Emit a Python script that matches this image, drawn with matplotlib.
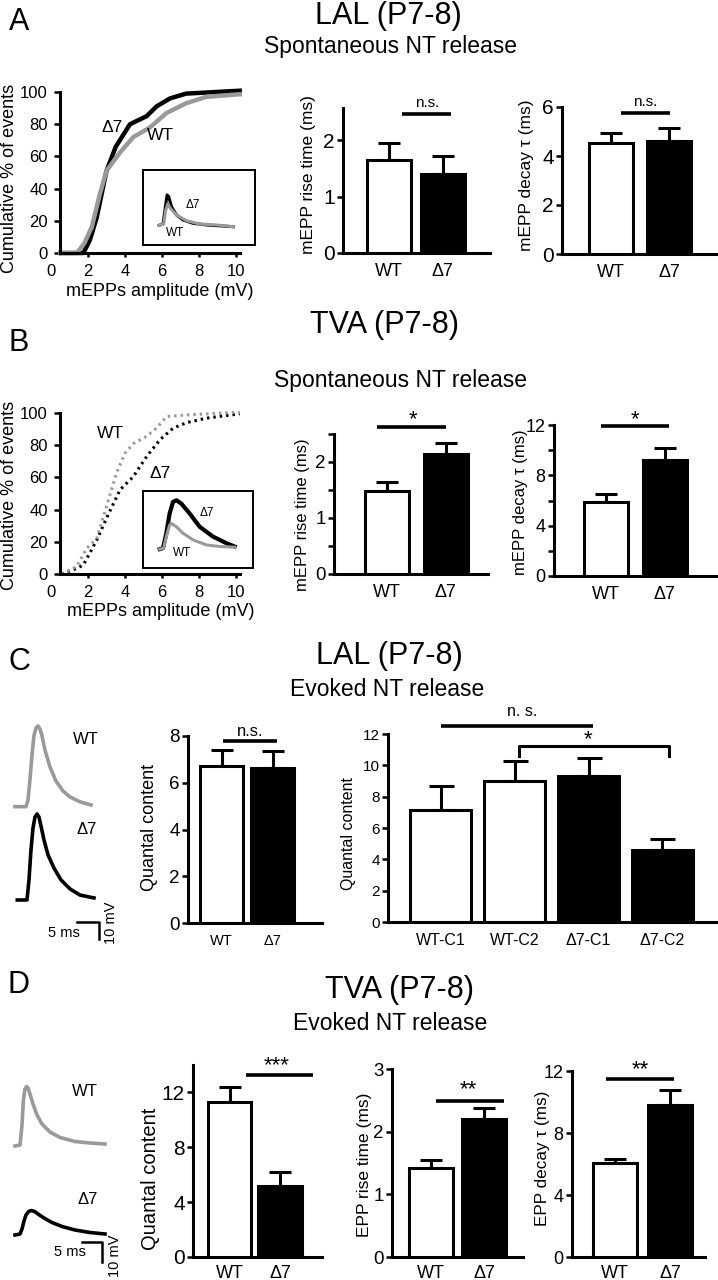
import numpy as np
import matplotlib.pyplot as plt

plt.rcParams['font.family'] = ['Liberation Sans', 'DejaVu Sans']

W, H = 718, 1280
GRAY = '#9a9a9a'

# cumulative mEPP amplitude distributions (mV, % of events)
a_wt_amp = [0.5, 1.4, 1.8, 2.2, 2.65, 3.0, 3.7, 4.45, 5.35, 6.25, 7.3, 8.4, 10.2]
a_wt_cum = [0, 0, 6, 16, 37, 51, 62, 72, 78, 87, 93, 97, 98.6]
a_d7_amp = [0.5, 1.6, 1.75, 2.1, 2.47, 3.0, 3.5, 4.27, 5.17, 5.7, 6.43, 7.3, 10.2]
a_d7_cum = [0, 0, 0, 8, 22, 51, 66, 80, 85, 91, 96, 99, 100.8]
b_wt_amp = [0.57, 1.39, 1.93, 2.47, 3.0, 3.55, 4.0, 4.45, 5.17, 5.7, 6.25, 7.3, 10.2]
b_wt_cum = [0, 4.6, 16, 22, 42, 63, 75, 81, 85.5, 90.6, 97.8, 98.8, 100.5]
b_d7_amp = [0.57, 1.39, 1.75, 2.47, 3.0, 3.73, 4.45, 5.17, 5.89, 6.6, 7.33, 8.4, 10.2]
b_d7_cum = [0, 3.5, 5.6, 21, 34.6, 52.3, 60.5, 73, 83.4, 90.6, 94, 96.8, 99.5]

# mEPP inset traces (arbitrary units)
ia_d7_t = [14.3, 17.9, 20.0, 21.5, 23.0, 25.4, 29.9, 35.8, 44.8, 56.7, 80.6]
ia_d7_v = [26.2, 28.0, 51.1, 66.7, 64.4, 51.1, 40.0, 33.3, 28.9, 26.7, 24.4]
ia_wt_t = [14.3, 18.5, 20.3, 22.1, 24.5, 29.9, 38.8, 50.7, 65.7, 80.6]
ia_wt_v = [26.2, 28.0, 46.7, 54.7, 48.9, 40.0, 32.4, 28.0, 26.7, 24.4]
ib_d7_t = [15.2, 18.2, 21.2, 24.2, 27.3, 30.3, 34.8, 42.4, 51.5, 63.6, 75.8, 83.3]
ib_d7_v = [24.5, 25.8, 45.1, 70.8, 85.8, 88.0, 83.7, 70.8, 53.6, 40.8, 32.2, 27.9]
ib_wt_t = [15.2, 18.8, 21.2, 24.2, 25.8, 30.3, 36.4, 45.5, 57.6, 69.7, 83.3]
ib_wt_v = [24.5, 25.8, 40.8, 55.8, 57.9, 53.6, 45.1, 36.5, 30.0, 27.9, 27.0]

# EPP traces (ms, mV above baseline)
c_wt_t = [0, 2.5, 2.95, 3.4, 3.86, 4.3, 4.77, 5.23, 5.68, 6.14, 6.8, 7.95, 9.3, 10.9, 12.5, 14.8, 17.3]
c_wt_v = [0, 0, 3.9, 15.7, 30.4, 41.6, 46.3, 47.5, 45.7, 41.6, 33.4, 23.4, 15.1, 9.2, 5.7, 2.8, 1.0]
c_d7_t = [0, 2.2, 2.66, 3.11, 3.57, 4.02, 4.48, 4.93, 5.39, 6.07, 6.98, 8.34, 9.93, 11.98, 14.25, 17.43]
c_d7_v = [0, 0, 11.8, 29.4, 42.4, 48.8, 50.6, 48.8, 43.5, 35.3, 26.5, 18.8, 11.8, 6.5, 2.9, 1.2]
d_wt_t = [0, 1.25, 1.75, 2.1, 2.5, 2.9, 3.25, 3.75, 4.5, 5.5, 6.75, 8.75, 11.25, 15, 18.75, 22.5]
d_wt_v = [0, 0.5, 10.5, 23, 28.5, 29.75, 29, 26, 21, 15.5, 11, 7, 4.25, 2.25, 1.5, 1]
d_d7_t = [0, 1.25, 1.75, 2.25, 2.75, 3.4, 4.1, 4.9, 5.75, 7.25, 9.25, 11.75, 15, 18.75, 22.5]
d_d7_v = [0, 0.5, 3, 7, 10, 11.75, 12.25, 11.75, 10.5, 8.5, 6.25, 4.25, 2.5, 1.25, 0.5]

# bar values (mean, sem)
groups = ['WT', 'Δ7']
c_groups = ['WT-C1', 'WT-C2', 'Δ7-C1', 'Δ7-C2']
a_rise, a_rise_err = [1.65, 1.40], [0.30, 0.32]
a_decay, a_decay_err = [4.53, 4.61], [0.41, 0.53]
b_rise, b_rise_err = [1.48, 2.14], [0.16, 0.20]
b_decay, b_decay_err = [5.87, 9.20], [0.64, 1.00]
c_qc, c_qc_err = [6.70, 6.65], [0.70, 0.72]
c_qc4, c_qc4_err = [7.15, 9.0, 9.35, 4.6], [1.55, 1.25, 1.15, 0.7]
d_qc, d_qc_err = [11.3, 5.15], [1.1, 1.05]
d_rise, d_rise_err = [1.42, 2.20], [0.13, 0.18]
d_decay, d_decay_err = [6.05, 9.8], [0.30, 1.0]

fig = plt.figure(figsize=(W / 100, H / 100), dpi=100)


def px_axes(left, top, right, bottom):
    return fig.add_axes([left / W, 1 - bottom / H, (right - left) / W, (bottom - top) / H])


def ftext(x, y, s, size, **kw):
    kw.setdefault('ha', 'center')
    kw.setdefault('va', 'center')
    fig.text(x / W, 1 - y / H, s, fontsize=size, **kw)


def style(ax, lw=2.2):
    for s in ['top', 'right']:
        ax.spines[s].set_visible(False)
    for s in ['left', 'bottom']:
        ax.spines[s].set_linewidth(lw)
    ax.tick_params(width=1.8, length=4, direction='out')


def bar_panel(box, centers, width, ymax, labels, vals, errs, yticks, minor=None,
              fs_tick=13, fs_x=13, cap=8, xpad=6):
    L, top, R, bottom = box
    ax = px_axes(L, top, R, bottom)
    c0, d = centers[0], centers[1] - centers[0]
    pos = [(c - c0) / d for c in centers]
    ax.set_xlim((L - c0) / d, (R - c0) / d)
    ax.set_ylim(0, ymax)
    cols = ['white' if l.startswith('WT') else 'black' for l in labels]
    ax.errorbar(pos, vals, yerr=[np.zeros(len(vals)), errs], fmt='none', ecolor='k',
                elinewidth=2.2, capsize=cap, capthick=2.2, zorder=2)
    ax.bar(pos, vals, width=width / d, color=cols, edgecolor='k', linewidth=2.2, zorder=3)
    style(ax)
    ax.set_yticks(yticks)
    if minor is not None:
        ax.set_yticks(minor, minor=True)
        ax.tick_params(axis='y', which='minor', width=1.8, length=4)
    ax.tick_params(axis='y', labelsize=fs_tick, pad=2)
    ax.set_xticks(pos, labels)
    ax.tick_params(axis='x', length=0, labelsize=fs_x, pad=xpad)
    return ax


def sig(ax, x1, x2, y, drop=None):
    if drop is None:
        ax.plot([x1, x2], [y, y], color='k', lw=2.6, clip_on=False, solid_capstyle='butt')
    else:
        ax.plot([x1, x1, x2, x2], [drop, y, y, drop], color='k', lw=2.2, clip_on=False)


def cdf_panel(top, bottom, wt_x, wt_y, d7_x, d7_y, dotted):
    ax = px_axes(51, top, 51 + 10.3 * 18.5, bottom)
    ax.set_xlim(0, 10.3)
    ax.set_ylim(0, 100)
    style(ax)
    ax.spines['left'].set_position(('data', 0.5))
    ax.spines['bottom'].set_bounds(0.5, 10.2)
    ls = (0, (0.8, 1.3)) if dotted else '-'
    lw = 2.2 if dotted else 3.2
    ax.plot(d7_x, d7_y, color='k', lw=lw, ls=ls, clip_on=False)
    ax.plot(wt_x, wt_y, color=GRAY, lw=lw, ls=ls, clip_on=False)
    ax.set_xticks([0, 2, 4, 6, 8, 10])
    ax.set_yticks([0, 20, 40, 60, 80, 100])
    ax.tick_params(labelsize=12)
    ax.tick_params(axis='y', pad=5)
    ax.tick_params(axis='x', length=3, pad=5)
    ax.xaxis.get_major_ticks()[0].tick1line.set_visible(False)
    return ax


def inset(box, wt_t, wt_v, d7_t, d7_v, lw_d7):
    ax = px_axes(*box)
    ax.set_xlim(0, 100)
    ax.set_ylim(0, 100)
    ax.set_xticks([])
    ax.set_yticks([])
    for s in ax.spines.values():
        s.set_linewidth(1.4)
    ax.plot(d7_t, d7_v, color='k', lw=lw_d7)
    ax.plot(wt_t, wt_v, color=GRAY, lw=2.2)


# ---------------- A ----------------
ftext(19, 22, 'A', 22)
ftext(388, 16, 'LAL (P7-8)', 22)
ftext(390, 47, 'Spontaneous NT release', 16.5)

cdf_panel(92, 253, a_wt_amp, a_wt_cum, a_d7_amp, a_d7_cum, dotted=False)
ftext(10, 178, 'Cumulative % of events', 13, rotation=90)
ftext(160, 291, 'mEPPs amplitude (mV)', 13)
ftext(112, 127, 'Δ7', 12.5)
ftext(160, 136, 'WT', 12.5)
inset((143, 170, 255, 245), ia_wt_t, ia_wt_v, ia_d7_t, ia_d7_v, 2.2)
ftext(193, 205, 'Δ7', 8.5)
ftext(175, 233, 'WT', 8.5)

ax = bar_panel((343, 108, 490, 253), [388.5, 442.5], 44, 2.57, groups, a_rise, a_rise_err,
               [0, 1, 2], fs_tick=15, xpad=7)
sig(ax, 0.25, 1.16, 2.46)
ftext(427, 103, 'n.s.', 11)
ftext(309, 175, 'mEPP rise time (ms)', 12.5, rotation=90)

ax = bar_panel((562, 107, 717, 254), [611, 669], 44, 6, groups, a_decay, a_decay_err,
               [0, 2, 4, 6], fs_tick=15, xpad=7)
sig(ax, 0.17, 1.02, 5.76)
ftext(645, 102, 'n.s.', 11)
ftext(527, 175, 'mEPP decay τ (ms)', 12.5, rotation=90)

# ---------------- B ----------------
ftext(19, 343, 'B', 22)
ftext(385, 325, 'TVA (P7-8)', 22)
ftext(400, 380, 'Spontaneous NT release', 16.5)

cdf_panel(413, 574, b_wt_amp, b_wt_cum, b_d7_amp, b_d7_cum, dotted=True)
ftext(10, 495, 'Cumulative % of events', 13, rotation=90)
ftext(161, 611, 'mEPPs amplitude (mV)', 13)
ftext(110, 433, 'WT', 12.5)
ftext(160, 474, 'Δ7', 12.5)
inset((143, 491, 253, 568), ib_wt_t, ib_wt_v, ib_d7_t, ib_d7_v, 3.0)
ftext(207, 513, 'Δ7', 8.5)
ftext(182, 553, 'WT', 8.5)

ax = bar_panel((334, 434, 488, 574), [387, 445.5], 44, 2.5, groups, b_rise, b_rise_err,
               [0, 1, 2], minor=[0.5, 1.5, 2.5], fs_tick=13.5, xpad=7)
sig(ax, -0.17, 1.01, 2.63)
ftext(413, 420, '*', 16)
ftext(302, 515, 'mEPP rise time (ms)', 12, rotation=90)

ax = bar_panel((554, 425, 717, 576), [606, 664.5], 44, 12, groups, b_decay, b_decay_err,
               [0, 4, 8, 12], minor=[2, 6, 10], fs_tick=13, xpad=7)
sig(ax, -0.09, 1.08, 11.9)
ftext(635, 420, '*', 16)
ftext(520, 502, 'mEPP decay τ (ms)', 12, rotation=90)

# ---------------- C ----------------
ftext(19, 662, 'C', 22)
ftext(389, 656, 'LAL (P7-8)', 22)
ftext(387, 690, 'Evoked NT release', 16.5)

tr = px_axes(0, 700, 130, 960)
tr.set_xlim(0, 130 / 4.4)
tr.set_ylim(0, 260 / 1.7)
tr.axis('off')
tr.plot(np.array(c_wt_t) + 3.41, np.array(c_wt_v) + 90.2, color=GRAY, lw=2.6)
tr.plot(np.array(c_d7_t) + 3.93, np.array(c_d7_v) + 35.3, color='k', lw=2.6)
tr.plot([17.5, 22.5, 22.5], [22.4, 22.4, 12.4], color='k', lw=1.8)
ftext(86, 739, 'WT', 12)
ftext(87, 830, 'Δ7', 12)
ftext(64, 933, '5 ms', 10.5)
ftext(111, 923, '10 mV', 10.5, rotation=90)

ax = bar_panel((188, 736, 322, 923), [221.5, 272.5], 43, 8, groups, c_qc, c_qc_err,
               [0, 2, 4, 6, 8], fs_tick=13.5, fs_x=10.5, xpad=8)
sig(ax, 0.03, 1.09, 7.78)
ftext(250, 731, 'n.s.', 12)
ftext(150, 827, 'Quantal content', 13, rotation=90)

ax = bar_panel((388, 734, 718, 922), [441, 514.8, 588.6, 662.4], 61, 12, c_groups, c_qc4, c_qc4_err,
               [0, 2, 4, 6, 8, 10, 12], fs_tick=11, fs_x=11.5, cap=9, xpad=8)
sig(ax, 0, 2.06, 12.5)
sig(ax, 1.06, 3.09, 11.23, drop=10.6)
ftext(522, 712, 'n. s.', 11.5)
ftext(588, 740, '*', 16)
ftext(348, 833, 'Quantal content', 11.5, rotation=90)

# ---------------- D ----------------
ftext(18, 985, 'D', 22)
ftext(399, 990, 'TVA (P7-8)', 22)
ftext(390, 1024, 'Evoked NT release', 16.5)

tr = px_axes(0, 1040, 130, 1280)
tr.set_xlim(0, 32.5)
tr.set_ylim(0, 120)
tr.axis('off')
tr.plot(np.array(d_wt_t) + 3.75, np.array(d_wt_v) + 67, color=GRAY, lw=2.6)
tr.plot(np.array(d_d7_t) + 3.75, np.array(d_d7_v) + 22.5, color='k', lw=2.6)
tr.plot([20.5, 25.5, 25.5], [19, 19, 9], color='k', lw=1.8)
ftext(85, 1092, 'WT', 12)
ftext(88, 1200, 'Δ7', 12)
ftext(70, 1252, '5 ms', 10.5)
ftext(115, 1256, '10 mV', 10.5, rotation=90)

ax = bar_panel((193, 1065, 322, 1257), [229.5, 280], 43.5, 14, groups, d_qc, d_qc_err,
               [0, 4, 8, 12], fs_tick=15, xpad=6)
sig(ax, 0.33, 1.65, 13.24)
ftext(277, 1066, '***', 16)
ftext(151, 1179, 'Quantal content', 14.5, rotation=90)

ax = bar_panel((392, 1069, 523, 1257), [431, 484], 44, 3, groups, d_rise, d_rise_err,
               [0, 1, 2, 3], fs_tick=13.5, xpad=6)
sig(ax, 0.09, 1.38, 2.49)
ftext(468, 1090, '**', 16)
ftext(364, 1165, 'EPP rise time (ms)', 12.5, rotation=90)

ax = bar_panel((572, 1071, 705, 1257), [615, 670], 44, 12, groups, d_decay, d_decay_err,
               [0, 4, 8, 12], fs_tick=13, xpad=6)
sig(ax, -0.16, 1.07, 11.5)
ftext(640, 1070, '**', 16)
ftext(543, 1158, 'EPP decay τ (ms)', 12.3, rotation=90)

fig.savefig('out.png', dpi=100)
